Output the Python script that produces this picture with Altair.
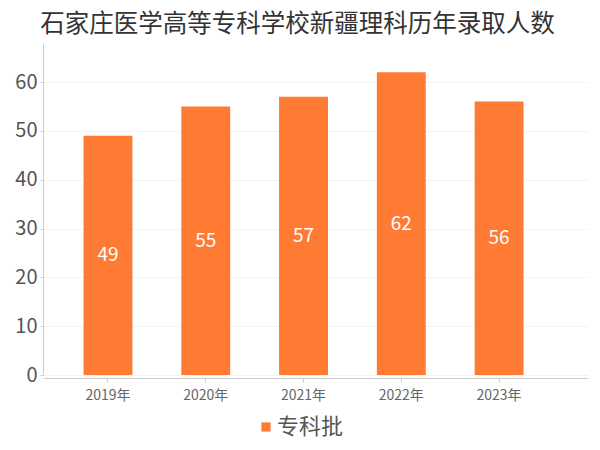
import altair as alt
import pandas as pd

years = ["2019年", "2020年", "2021年", "2022年", "2023年"]
values = [49, 55, 57, 62, 56]
series = "专科批"

df = pd.DataFrame({"year": years, "value": values, "series": [series] * len(years)})

FONT = "Noto Sans CJK SC"
ORANGE = "#FF7A33"

base = alt.Chart(df)

bars = base.mark_bar(color=ORANGE).encode(
    x=alt.X(
        "year:N",
        sort=years,
        title=None,
        scale=alt.Scale(paddingInner=0.5, paddingOuter=0.537, align=0.386),
        axis=alt.Axis(
            labelAngle=0, labelFontSize=14, labelColor="#666666", labelFont=FONT,
            domainColor="#cccccc", tickColor="#cccccc", tickSize=4, labelPadding=6,
            offset=3, grid=False,
        ),
    ),
    y=alt.Y(
        "value:Q",
        title=None,
        scale=alt.Scale(domain=[0, 68], nice=False),
        axis=alt.Axis(
            values=[0, 10, 20, 30, 40, 50, 60], labelFontSize=20, labelColor="#555555",
            labelFont=FONT, domainColor="#cccccc", tickColor="#cccccc", tickSize=3,
            labelPadding=3, gridColor="#f3f3f3", grid=True,
        ),
    ),
    fill=alt.Fill(
        "series:N",
        scale=alt.Scale(domain=[series], range=[ORANGE]),
        legend=alt.Legend(
            title=None, orient="none", legendX=212, legendY=373, direction="horizontal",
            symbolType="square", symbolSize=85, labelFontSize=22, labelColor="#555555",
            labelFont=FONT, symbolStrokeWidth=0, labelOffset=0,
        ),
    ),
)

labels = base.mark_text(color="white", fontSize=19, font=FONT).encode(
    x=alt.X("year:N", sort=years),
    y=alt.Y("mid:Q"),
    text=alt.Text("value:Q"),
).transform_calculate(mid="datum.value / 2")

chart = (
    alt.layer(bars, labels)
    .properties(
        width=545,
        height=332,
        autosize=alt.AutoSizeParams(type="none"),
        padding={"left": 35, "top": 35, "right": 4, "bottom": 67},
        title=alt.TitleParams(
            "石家庄医学高等专科学校新疆理科历年录取人数",
            fontSize=24.5, font=FONT, color="#333333", fontWeight="normal",
            offset=6, dx=-18, anchor="middle",
        ),
    )
    .configure_view(stroke=None)
)

chart.save("out.html", embed_options={"renderer": "svg", "actions": False})
